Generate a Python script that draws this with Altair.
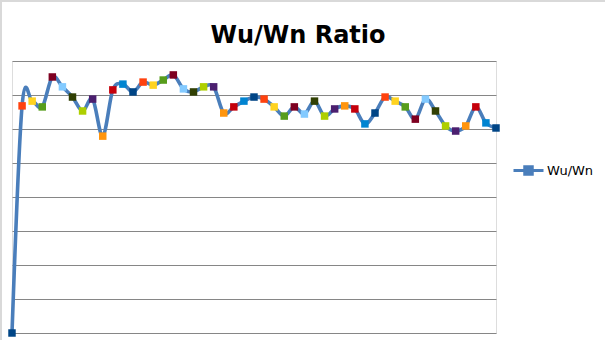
import altair as alt
import pandas as pd

ratio = [0.0, 6.68, 6.82, 6.65, 7.53, 7.24, 6.94, 6.53, 6.88, 5.79,
         7.15, 7.32, 7.09, 7.38, 7.29, 7.44, 7.59, 7.18, 7.09, 7.24,
         7.24, 6.47, 6.65, 6.82, 6.94, 6.88, 6.65, 6.38, 6.65, 6.44,
         6.82, 6.38, 6.59, 6.68, 6.59, 6.15, 6.47, 6.94, 6.82, 6.65,
         6.29, 6.88, 6.53, 6.09, 5.94, 6.09, 6.65, 6.18, 6.03]
series_name = "Wu/Wn"
palette = ["#004586", "#FF420E", "#FFD320", "#579D1C", "#7E0021", "#83CAFF",
           "#314004", "#AECF00", "#4B1F6F", "#FF950E", "#C5000B", "#0084D1"]
line_color = "#4A7EBB"

df = pd.DataFrame({
    "idx": list(range(len(ratio))),
    "ratio": ratio,
    "series": [series_name] * len(ratio),
    "cidx": [i % len(palette) for i in range(len(ratio))],
})

x = alt.X("idx:Q", scale=alt.Scale(domain=[0, len(ratio) - 1], nice=False, zero=False), axis=None)
y = alt.Y("ratio:Q", scale=alt.Scale(domain=[0, 8], nice=False),
          axis=alt.Axis(values=list(range(9)), labels=False, ticks=False, domain=False,
                        grid=True, gridColor="#868686", gridWidth=1, title=None))

legend_path = "M-1,0L1,0M-0.25,-0.25L0.25,-0.25L0.25,0.25L-0.25,0.25Z"

line = alt.Chart(df).mark_line(interpolate="cardinal", strokeWidth=3.6, clip=False).encode(
    x=x, y=y,
    stroke=alt.Stroke("series:N", scale=alt.Scale(range=[line_color]),
                      legend=alt.Legend(title=None, orient="none", legendX=500, legendY=93,
                                        symbolType=legend_path, symbolSize=900,
                                        symbolStrokeWidth=3, symbolFillColor=line_color,
                                        labelFont="DejaVu Sans", labelFontSize=13,
                                        labelColor="#000000", labelOffset=2)),
)

points = alt.Chart(df).mark_square(size=56, opacity=1, clip=False).encode(
    x=x, y=y,
    fill=alt.Fill("cidx:N", scale=alt.Scale(domain=list(range(len(palette))), range=palette), legend=None),
)

border_df = pd.DataFrame({"a": [0]})
border_left = alt.Chart(border_df).mark_rule(color="#D9D9D9", strokeWidth=2).encode(
    x=alt.value(-11), y=alt.value(-61), y2=alt.value(279))
border_top = alt.Chart(border_df).mark_rule(color="#D9D9D9", strokeWidth=2).encode(
    x=alt.value(-12), x2=alt.value(593), y=alt.value(-60))

chart = alt.layer(border_left, border_top, line, points).resolve_scale(
    fill="independent", stroke="independent"
).properties(
    width=484, height=272,
    padding={"left": 12, "top": 61, "right": 109, "bottom": 7},
    autosize=alt.AutoSizeParams(type="none"),
    title=alt.TitleParams("Wu/Wn Ratio", font="DejaVu Sans", fontSize=24, fontWeight="bold",
                          color="#000000", anchor="middle", frame="group", dx=44, offset=18,
                          dy=86, baseline="alphabetic"),
).configure_view(stroke=None).configure(background="white")

chart.save("out.html", embed_options={"renderer": "svg", "actions": False})
